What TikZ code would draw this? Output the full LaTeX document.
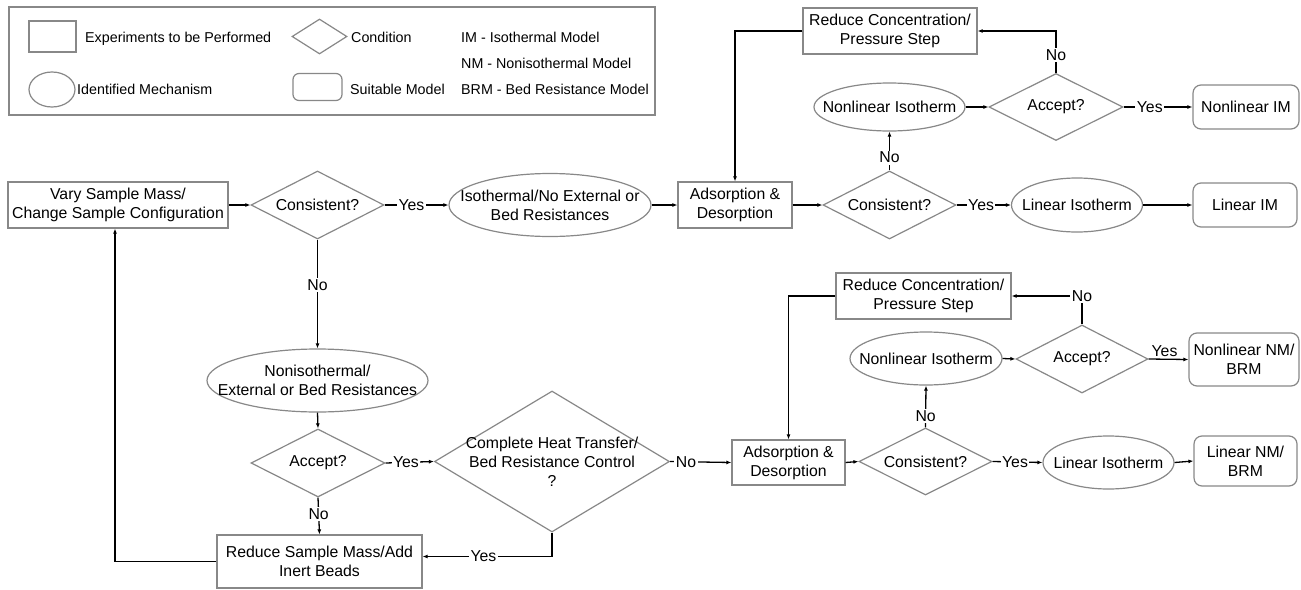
\documentclass[tikz,border=0pt]{standalone}
\usepackage{fontspec}
\setmainfont{Liberation Sans}
\usetikzlibrary{shapes.geometric,arrows.meta}
\definecolor{bordergray}{HTML}{888888}
\newcommand\mainfs{\fontsize{15.8}{19}\selectfont}
\newcommand\legfs{\fontsize{14.3}{17}\selectfont}
\begin{document}
\begin{tikzpicture}[x=1pt,y=-1pt,
  shp/.style={draw=bordergray, line width=1.2pt, inner sep=0pt, fill=white},
  rbox/.style={shp, rectangle},
  rrbox/.style={shp, rectangle, rounded corners=8pt},
  ell/.style={shp, ellipse},
  dia/.style={shp, diamond},
  every label/.style={align=center, font=\mainfs, inner sep=0pt},
  conn/.style={draw=black, line width=1.3pt, -{Latex[length=5pt,width=4pt]}},
  plain/.style={draw=black, line width=1.3pt},
  lab/.style={fill=white, inner sep=1.5pt, font=\mainfs},
  legtxt/.style={anchor=base west, inner sep=0pt, font=\legfs}
]
\useasboundingbox (0,0) rectangle (1301,589);

% ---------- legend ----------
\node[shp, minimum width=646, minimum height=108] (legend) at (332,61) {};
\node[rbox, minimum width=47, minimum height=31] (lrect) at (52.5,36.5) {};
\node[legtxt] (lrectt) at (85,42) {Experiments to be Performed};
\node[dia, minimum width=55, minimum height=35] (ldia) at (319.5,36.5) {};
\node[legtxt] (ldiat) at (351,42) {Condition};
\node[ell, minimum width=46, minimum height=35] (lell) at (52,89.5) {};
\node[legtxt] (lellt) at (77,94) {Identified Mechanism};
\node[rrbox, rounded corners=6pt, minimum width=49, minimum height=27] (lrr) at (317.5,87) {};
\node[legtxt] (lrrt) at (350,94) {Suitable Model};
\node[legtxt] (lim) at (461,42) {IM - Isothermal Model};
\node[legtxt] (lnm) at (461,68) {NM - Nonisothermal Model};
\node[legtxt] (lbrm) at (461,94) {BRM - Bed Resistance Model};

% ---------- upper row ----------
\node[rbox, minimum width=220, minimum height=46,
  label={center:{Vary Sample Mass/\\Change Sample Configuration}}] (vary) at (118,205) {};
\node[dia, minimum width=133, minimum height=68, label={center:Consistent?}] (c1) at (317.5,205) {};
\node[ell, minimum width=202, minimum height=63,
  label={center:{Isothermal/No External or\\Bed Resistances}}] (iso) at (550,205) {};
\node[rbox, minimum width=114, minimum height=46,
  label={center:{Adsorption \&\\Desorption}}] (ad1) at (735,205) {};
\node[dia, minimum width=133, minimum height=68, label={center:Consistent?}] (c2) at (889.5,205) {};
\node[ell, minimum width=131, minimum height=54, label={center:Linear Isotherm}] (lin1) at (1077,205) {};
\node[rrbox, minimum width=104, minimum height=44, label={center:Linear IM}] (lim1) at (1245,205) {};
\node[ell, minimum width=151, minimum height=48, label={center:Nonlinear Isotherm}] (nl1) at (889.5,107) {};
\node[dia, minimum width=134, minimum height=67, label={center:Accept?}] (a1) at (1056,107) {};
\node[rrbox, minimum width=106, minimum height=44, label={center:Nonlinear IM}] (nlim) at (1246,107) {};
\node[rbox, minimum width=174, minimum height=46,
  label={center:{Reduce Concentration/\\Pressure Step}}] (red1) at (890,31) {};

% ---------- lower part ----------
\node[ell, minimum width=221, minimum height=63,
  label={center:{Nonisothermal/\\External or Bed Resistances}}] (noniso) at (317.5,380.5) {};
\node[dia, minimum width=134, minimum height=68, label={center:Accept?}] (acc1) at (318,463) {};
\node[dia, minimum width=235, minimum height=141,
  label={center:{Complete Heat Transfer/\\Bed Resistance Control\\?}}] (cd) at (552,461.5) {};
\node[rbox, minimum width=205, minimum height=53,
  label={center:{Reduce Sample Mass/Add\\Inert Beads}}] (rsm) at (319.5,561.5) {};
\node[rbox, minimum width=113, minimum height=45,
  label={center:{Adsorption \&\\Desorption}}] (ad2) at (788.5,462.5) {};
\node[dia, minimum width=133, minimum height=67, label={center:Consistent?}] (c3) at (925.5,461.5) {};
\node[ell, minimum width=131, minimum height=53, label={center:Linear Isotherm}] (lin2) at (1108.5,462.5) {};
\node[rrbox, minimum width=103, minimum height=50, label={center:{Linear NM/\\BRM}}] (linnm) at (1245.5,461) {};
\node[ell, minimum width=152, minimum height=53, label={center:Nonlinear Isotherm}] (nl2) at (926,358.5) {};
\node[dia, minimum width=132, minimum height=68, label={center:Accept?}] (a2) at (1082,359) {};
\node[rrbox, minimum width=110, minimum height=53, label={center:{Nonlinear NM/\\BRM}}] (nlnm) at (1244,359.5) {};
\node[rbox, minimum width=175, minimum height=46,
  label={center:{Reduce Concentration/\\Pressure Step}}] (red2) at (923.5,296) {};

% ---------- connectors ----------
\draw[conn] (vary.east) -- (c1.west);
\draw[conn] (c1.east) -- node[lab, pos=0.42] {Yes} (iso.west);
\draw[conn] (iso.east) -- (ad1.west);
\draw[conn] (ad1.east) -- (c2.west);
\draw[conn] (c2.east) -- node[lab, pos=0.45] {Yes} (lin1.west);
\draw[conn] (lin1.east) -- (lim1.west);
\draw[conn] (c2.north) -- node[lab, pos=0.33] {No} (nl1.south);
\draw[conn] (nl1.east) -- (a1.west);
\draw[conn] (a1.east) -- node[lab, pos=0.38] {Yes} (nlim.west);
\draw[conn] (a1.north) |- node[lab, pos=0.21] {No} (red1.east);
\draw[conn] (red1.west) -| (ad1.north);

\draw[conn] (c1.south) -- node[lab, pos=0.42] {No} (noniso.north);
\draw[conn] (noniso.south) -- (acc1.north);
\draw[conn] (acc1.east) -- node[lab, pos=0.42] {Yes} (cd.west);
\draw[conn] (acc1.south) -- node[lab, pos=0.45] {No} (rsm.north);
\draw[conn] (cd.south) |- node[lab, pos=0.765] {Yes} ([yshift=5pt]rsm.east);
\draw[conn] (rsm.west) -| ([xshift=-3pt]vary.south);

\draw[conn] (cd.east) -- node[lab, pos=0.26] {No} (ad2.west);
\draw[conn] (ad2.east) -- (c3.west);
\draw[conn] (c3.east) -- node[lab, pos=0.45] {Yes} (lin2.west);
\draw[conn] (lin2.east) -- (linnm.west);
\draw[conn] (c3.north) -- node[lab, pos=0.28] {No} (nl2.south);
\draw[conn] (nl2.east) -- (a2.west);
\draw[conn] (a2.east) -- node[above, font=\mainfs, pos=0.4, inner sep=2pt] {Yes} (nlnm.west);
\draw[conn] (a2.north) |- node[lab, pos=0.5] {No} (red2.east);
\draw[conn] (red2.west) -| (ad2.north);
\end{tikzpicture}
\end{document}
